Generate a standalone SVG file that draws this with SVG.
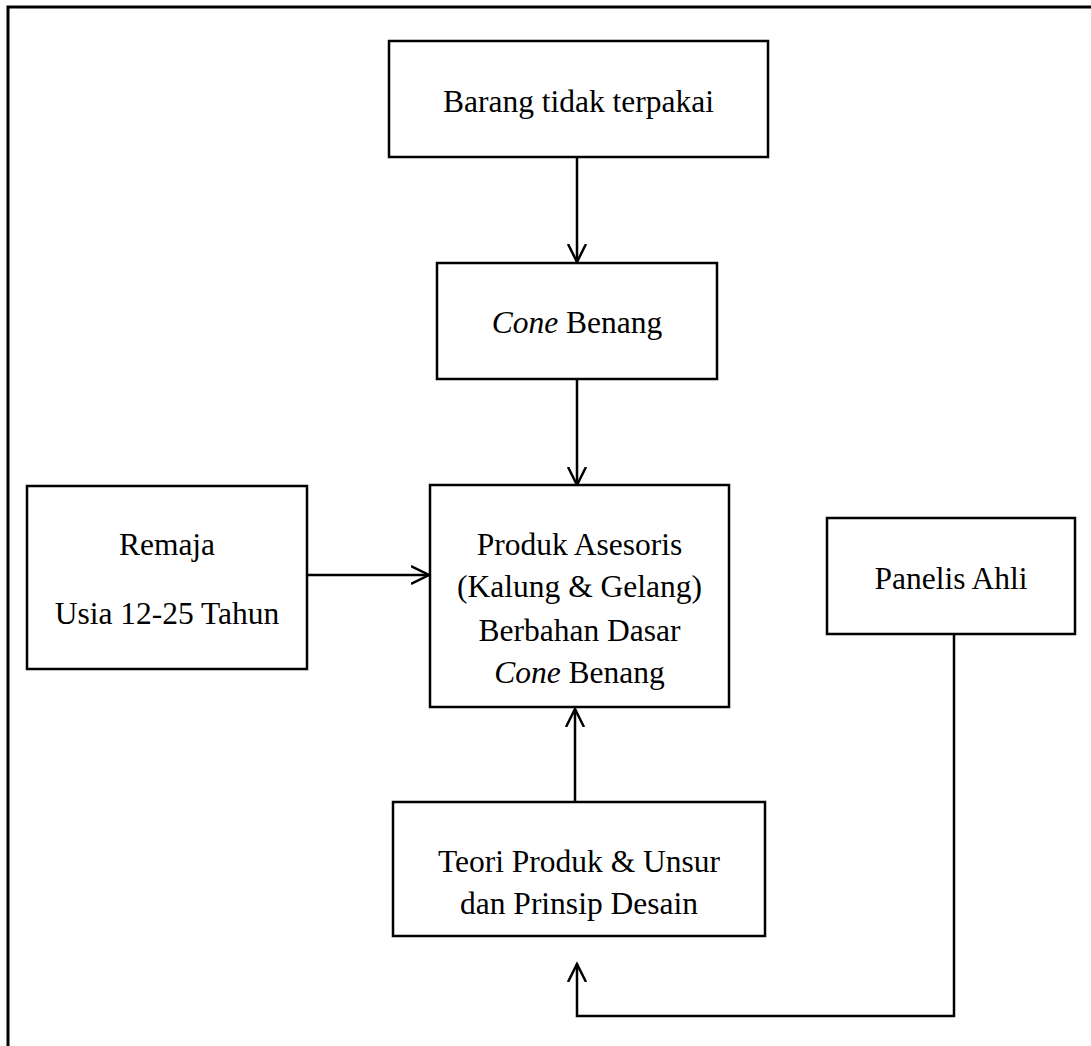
<svg xmlns="http://www.w3.org/2000/svg" width="1091" height="1046" viewBox="0 0 1091 1046">
<style>
.box{fill:#fff;stroke:#000;stroke-width:2.5}
.t{font-family:"Liberation Serif","Times New Roman",serif;font-size:31.5px;fill:#000;text-anchor:middle}
.c{fill:none;stroke:#000;stroke-width:2.5}
</style>
<defs>
<marker id="ah" markerUnits="userSpaceOnUse" markerWidth="24" markerHeight="24" refX="18" refY="10" orient="auto" viewBox="0 0 24 20">
<path d="M0,1 L18,10 L0,19" fill="none" stroke="#000" stroke-width="2.5"/>
</marker>
</defs>
<rect x="8" y="7" width="1200" height="1200" fill="none" stroke="#000" stroke-width="3"/>
<g id="connectors">
<line class="c" x1="577" y1="157" x2="577" y2="262" marker-end="url(#ah)"/>
<line class="c" x1="577" y1="379" x2="577" y2="485" marker-end="url(#ah)"/>
<line class="c" x1="307" y1="575" x2="429" y2="575" marker-end="url(#ah)"/>
<line class="c" x1="575" y1="802" x2="575" y2="709" marker-end="url(#ah)"/>
<polyline class="c" points="954,634 954,1016 577,1016 577,964" marker-end="url(#ah)"/>
</g>
<g id="n-barang">
<rect class="box" x="389" y="41" width="379" height="116"/>
<text class="t" x="578.5" y="112">Barang tidak terpakai</text>
</g>
<g id="n-cone">
<rect class="box" x="437" y="263" width="280" height="116"/>
<text class="t" x="577" y="333"><tspan font-style="italic">Cone</tspan> Benang</text>
</g>
<g id="n-remaja">
<rect class="box" x="27" y="486" width="280" height="183"/>
<text class="t" x="167" y="555">Remaja</text>
<text class="t" x="167" y="624">Usia 12-25 Tahun</text>
</g>
<g id="n-produk">
<rect class="box" x="430" y="485" width="299" height="222"/>
<text class="t" x="579.5" y="555">Produk Asesoris</text>
<text class="t" x="579.5" y="597">(Kalung &amp; Gelang)</text>
<text class="t" x="579.5" y="641">Berbahan Dasar</text>
<text class="t" x="579.5" y="683"><tspan font-style="italic">Cone</tspan> Benang</text>
</g>
<g id="n-panelis">
<rect class="box" x="827" y="518" width="248" height="116"/>
<text class="t" x="951" y="589">Panelis Ahli</text>
</g>
<g id="n-teori">
<rect class="box" x="393" y="802" width="372" height="134"/>
<text class="t" x="579" y="872">Teori Produk &amp; Unsur</text>
<text class="t" x="579" y="914">dan Prinsip Desain</text>
</g>
</svg>
